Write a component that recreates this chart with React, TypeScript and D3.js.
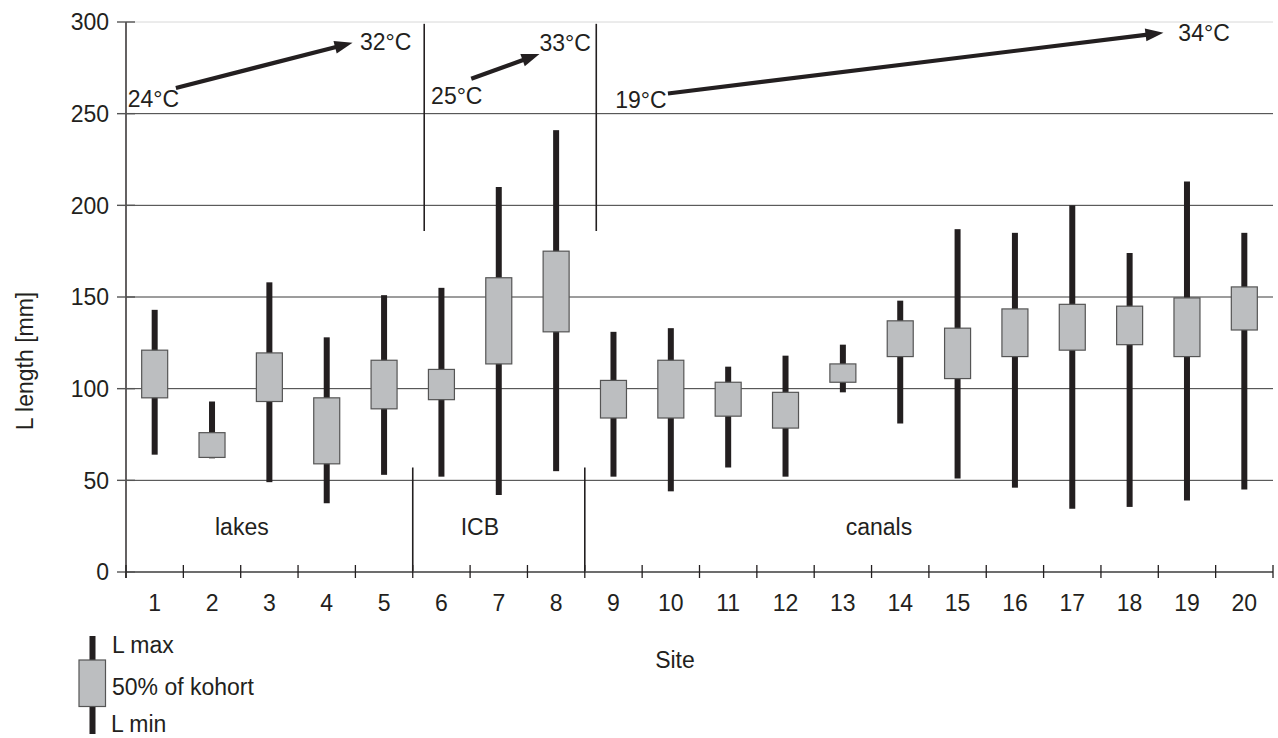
import React from 'react';
import * as d3 from 'd3';

// site numbers along the x axis
const sites = ['1', '2', '3', '4', '5', '6', '7', '8', '9', '10', '11', '12', '13', '14', '15', '16', '17', '18', '19', '20'];
// L max / L min (whiskers) and the 50% of kohort box, in mm
const lMax = [143, 93, 158, 128, 151, 155, 210, 241, 131, 133, 112, 118, 124, 148, 187, 185, 200, 174, 213, 185];
const lMin = [64, 62, 49, 37.5, 53, 52, 42, 55, 52, 44, 57, 52, 98, 81, 51, 46, 34.5, 35.5, 39, 45];
const boxTop = [121, 76, 119.5, 95, 115.5, 110.5, 160.5, 175, 104.5, 115.5, 103.5, 98, 113.5, 137, 133, 143.5, 146, 145, 149.5, 155.5];
const boxBottom = [95, 62.5, 93, 59, 89, 94, 113.5, 131, 84, 84, 85, 78.5, 103.5, 117.5, 105.5, 117.5, 121, 124, 117.5, 132];
const yTicks = [0, 50, 100, 150, 200, 250, 300];

// habitat groups: label, label position (site units), divider after group
const groups = ['lakes', 'ICB', 'canals'];
const groupLabelAt = [2.52, 6.67, 13.63];
const dividers = [5.5, 8.5];

// temperature gradients: [start site, start mm] -> [end site, end mm]
const tempFrom = ['24°C', '25°C', '19°C'];
const tempTo = ['32°C', '33°C', '34°C'];
const arrowStart = [[1.37, 264], [6.52, 269], [9.95, 261]];
const arrowEnd = [[4.45, 288.7], [7.71, 282.5], [18.59, 294.2]];
const fromLabelAt = [[0.53, 253.8], [5.82, 255.3], [9.03, 253.1]];
const toLabelAt = [[4.58, 284.5], [7.71, 284.4], [18.85, 289.8]];

const W = 1278;
const H = 738;
const margin = { left: 126, right: 5, top: 22, bottom: 166 };
const ink = '#231f20';
const font = '"Liberation Sans", Arial, sans-serif';
const fs = 23;

export default function App() {
  const x = d3.scaleBand().domain(sites).range([margin.left, W - margin.right]);
  const xs = d3.scaleLinear().domain([0.5, 20.5]).range([margin.left, W - margin.right]);
  const y = d3.scaleLinear().domain([0, 300]).range([H - margin.bottom, margin.top]);
  const bw = x.bandwidth();
  const boxW = 26;
  const whiskW = 6;
  const y0 = y(0);

  const arrows = arrowStart.map((s, i) => {
    const x1 = xs(s[0]), y1 = y(s[1]);
    const x2 = xs(arrowEnd[i][0]), y2 = y(arrowEnd[i][1]);
    const a = Math.atan2(y2 - y1, x2 - x1);
    const len = 18, half = 6.5;
    const bx = x2 - len * Math.cos(a), by = y2 - len * Math.sin(a);
    const head = [
      [x2, y2],
      [bx + half * Math.sin(a), by - half * Math.cos(a)],
      [bx - half * Math.sin(a), by + half * Math.cos(a)],
    ];
    return { x1, y1, x2: bx + 2 * Math.cos(a), y2: by + 2 * Math.sin(a), head };
  });

  return (
    <div style={{ position: 'absolute', left: 0, top: 0 }}>
      <svg width={W} height={H} style={{ display: 'block', background: '#fff' }} fontFamily={font}>
        {/* gridlines */}
        {yTicks.filter(t => t > 0).map(t => (
          <line key={t} x1={margin.left} x2={W - margin.right} y1={y(t)} y2={y(t)}
            stroke={t === 300 ? '#d8d8d8' : '#3a3a3a'} strokeWidth={1} />
        ))}

        {/* group dividers */}
        {dividers.map((d, i) => (
          <g key={i} stroke={ink} strokeWidth={1.6}>
            <line x1={xs(d)} x2={xs(d)} y1={y0} y2={y(57)} />
            <line x1={xs(d + 0.2)} x2={xs(d + 0.2)} y1={y(299)} y2={y(186)} />
          </g>
        ))}

        {/* whiskers */}
        {sites.map((s, i) => (
          <rect key={'w' + s} x={x(s)! + bw / 2 - whiskW / 2} width={whiskW}
            y={y(lMax[i])} height={y(lMin[i]) - y(lMax[i])} fill={ink} />
        ))}
        {/* boxes */}
        {sites.map((s, i) => (
          <rect key={'b' + s} x={x(s)! + bw / 2 - boxW / 2} width={boxW}
            y={y(boxTop[i])} height={y(boxBottom[i]) - y(boxTop[i])}
            fill="#bcbec0" stroke="#555" strokeWidth={1.2} />
        ))}

        {/* axes */}
        <line x1={margin.left} x2={W - margin.right} y1={y0} y2={y0} stroke="#6d6d6d" strokeWidth={2} />
        <line x1={margin.left} x2={margin.left} y1={margin.top} y2={y0 + 6} stroke={ink} strokeWidth={1.4} />
        {yTicks.map(t => (
          <g key={t}>
            <line x1={margin.left - 9} x2={margin.left + 9} y1={y(t)} y2={y(t)} stroke="#555" strokeWidth={1.4} />
            <text x={margin.left - 17} y={y(t)} dy="0.36em" textAnchor="end" fontSize={fs} fill={ink}>{t}</text>
          </g>
        ))}
        {d3.range(sites.length + 1).map(k => (
          <line key={k} x1={margin.left + k * bw} x2={margin.left + k * bw} y1={y0 - 7} y2={y0 + 6}
            stroke={ink} strokeWidth={1.3} />
        ))}
        {sites.map(s => (
          <text key={'l' + s} x={x(s)! + bw / 2} y={611} textAnchor="middle" fontSize={fs} fill={ink}>{s}</text>
        ))}

        {/* group labels */}
        {groups.map((g, i) => (
          <text key={g} x={xs(groupLabelAt[i])} y={y(0) - 37} textAnchor="middle" fontSize={fs} fill={ink}>{g}</text>
        ))}

        {/* temperature arrows */}
        {arrows.map((a, i) => (
          <g key={i}>
            <line x1={a.x1} y1={a.y1} x2={a.x2} y2={a.y2} stroke={ink} strokeWidth={4.2} />
            <polygon points={a.head.map(p => p.join(',')).join(' ')} fill={ink} />
            <text x={xs(fromLabelAt[i][0])} y={y(fromLabelAt[i][1])} fontSize={fs} fill={ink}>{tempFrom[i]}</text>
            <text x={xs(toLabelAt[i][0])} y={y(toLabelAt[i][1])} fontSize={fs} fill={ink}>{tempTo[i]}</text>
          </g>
        ))}

        {/* axis titles */}
        <text x={675} y={668} textAnchor="middle" fontSize={fs} fill={ink}>Site</text>
        <text transform={`translate(33,${(margin.top + y0) / 2 + 64}) rotate(-90)`} textAnchor="middle"
          fontSize={fs} fill={ink}>L length [mm]</text>

        {/* legend */}
        <g>
          <rect x={89.5} y={636} width={6} height={98} fill={ink} />
          <rect x={79} y={660} width={26.5} height={46.5} fill="#bcbec0" stroke="#555" strokeWidth={1.2} />
          <text x={112} y={653} fontSize={fs} fill={ink}>L max</text>
          <text x={112} y={695} fontSize={fs} fill={ink}>50% of kohort</text>
          <text x={111} y={732} fontSize={fs} fill={ink}>L min</text>
        </g>
      </svg>
    </div>
  );
}
